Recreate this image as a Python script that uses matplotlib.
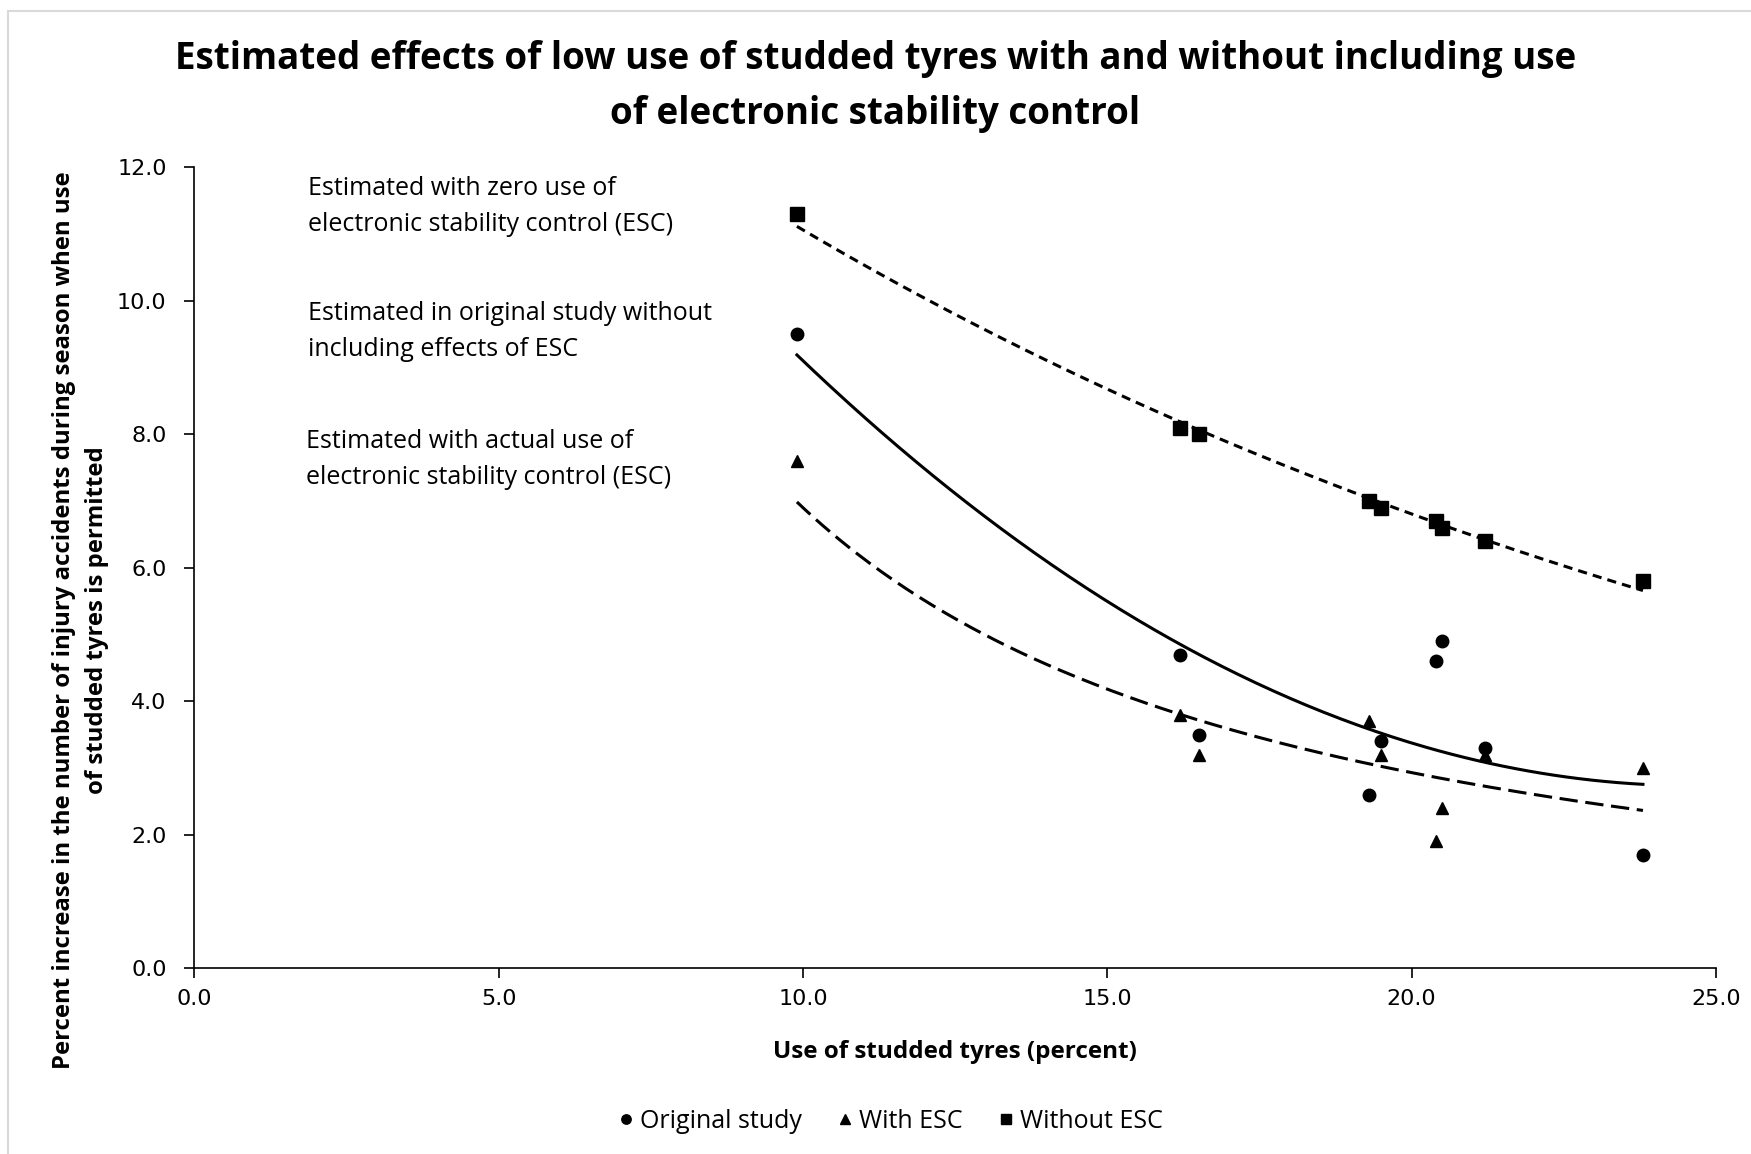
import numpy as np
import matplotlib
matplotlib.use("Agg")
import matplotlib.pyplot as plt
from matplotlib.patches import Rectangle

# Data
use_studded = [9.9, 16.2, 16.5, 19.3, 19.5, 20.4, 20.5, 21.2, 23.8]
original_study = [9.5, 4.7, 3.5, 2.6, 3.4, 4.6, 4.9, 3.3, 1.7]
with_esc = [7.6, 3.8, 3.2, 3.7, 3.2, 1.9, 2.4, 3.2, 3.0]
without_esc = [11.3, 8.1, 8.0, 7.0, 6.9, 6.7, 6.6, 6.4, 5.8]

x_ticks = [0, 5, 10, 15, 20, 25]
y_ticks = [0, 2, 4, 6, 8, 10, 12]

title = ("Estimated effects of low use of studded tyres with and without including use\n"
         "of electronic stability control")
y_title = ("Percent increase in the number of injury accidents during season when use\n"
           "of studded tyres is permitted")
notes = [
    (1.87, 11.87, "Estimated with zero use of\nelectronic stability control (ESC)"),
    (1.87, 10.0, "Estimated in original study without\nincluding effects of ESC"),
    (1.83, 8.08, "Estimated with actual use of\nelectronic stability control (ESC)"),
]

text_font = ["Open Sans", "DejaVu Sans"]

fig = plt.figure(figsize=(17.51, 11.54), dpi=100)
ax = fig.add_axes([0.111, 0.161, 0.869, 0.694])

# light chart-area border (only left/top edges fall inside the image)
fig.patches.append(Rectangle((0.0046, -0.1), 1.2, 1.0905, transform=fig.transFigure,
                             fill=False, edgecolor="#d9d9d9", linewidth=1.5))

x = np.array(use_studded)
xs = np.linspace(min(use_studded), max(use_studded), 200)

# trendlines: polynomial (original), power (with ESC), exponential (without ESC)
poly = np.polyfit(x, np.array(original_study), 2)
pw = np.polyfit(np.log(x), np.log(with_esc), 1)
ex = np.polyfit(x, np.log(without_esc), 1)

ax.plot(xs, np.polyval(poly, xs), color="black", lw=2.2, ls="-")
ax.plot(xs, np.exp(pw[1]) * xs ** pw[0], color="black", lw=2.2, ls=(0, (6, 2.5)))
ax.plot(xs, np.exp(ex[1] + ex[0] * xs), color="black", lw=2.2, ls=(0, (3, 2)))

ax.plot(use_studded, original_study, "o", color="black", ms=9, label="Original study")
ax.plot(use_studded, with_esc, "^", color="black", ms=9, label="With ESC")
ax.plot(use_studded, without_esc, "s", color="black", ms=10, label="Without ESC")

for nx, ny, txt in notes:
    ax.text(nx, ny, txt, fontsize=18, family=text_font, va="top", ha="left",
            linespacing=1.6)

ax.set_xlim(0, 25)
ax.set_ylim(0, 12)
ax.set_xticks(x_ticks)
ax.set_yticks(y_ticks)
ax.set_xticklabels([f"{v:.1f}" for v in x_ticks])
ax.set_yticklabels([f"{v:.1f}" for v in y_ticks])
ax.tick_params(direction="out", length=7, width=1.2, labelsize=16)
ax.tick_params(axis="x", pad=8)
ax.tick_params(axis="y", pad=13)
for side in ("top", "right"):
    ax.spines[side].set_visible(False)
for side in ("left", "bottom"):
    ax.spines[side].set_linewidth(1.2)

ax.set_xlabel("Use of studded tyres (percent)", fontsize=17.5, fontweight="bold",
              family=text_font, labelpad=22)
fig.text(0.046, 0.463, y_title, rotation=90, ha="center", va="center",
         fontsize=17.2, fontweight="bold", family=text_font, linespacing=1.5,
         multialignment="center")

fig.text(0.5, 0.925, title, fontsize=26.5, fontweight="bold", family=text_font,
         ha="center", va="center", linespacing=1.6, multialignment="center")

fig.legend(loc="center", bbox_to_anchor=(0.508, 0.028), ncol=3, frameon=False,
           prop={"family": text_font, "size": 18}, handlelength=0.8,
           handletextpad=0.15, columnspacing=1.34, markerscale=0.75)

fig.savefig("out.png", dpi=100)
